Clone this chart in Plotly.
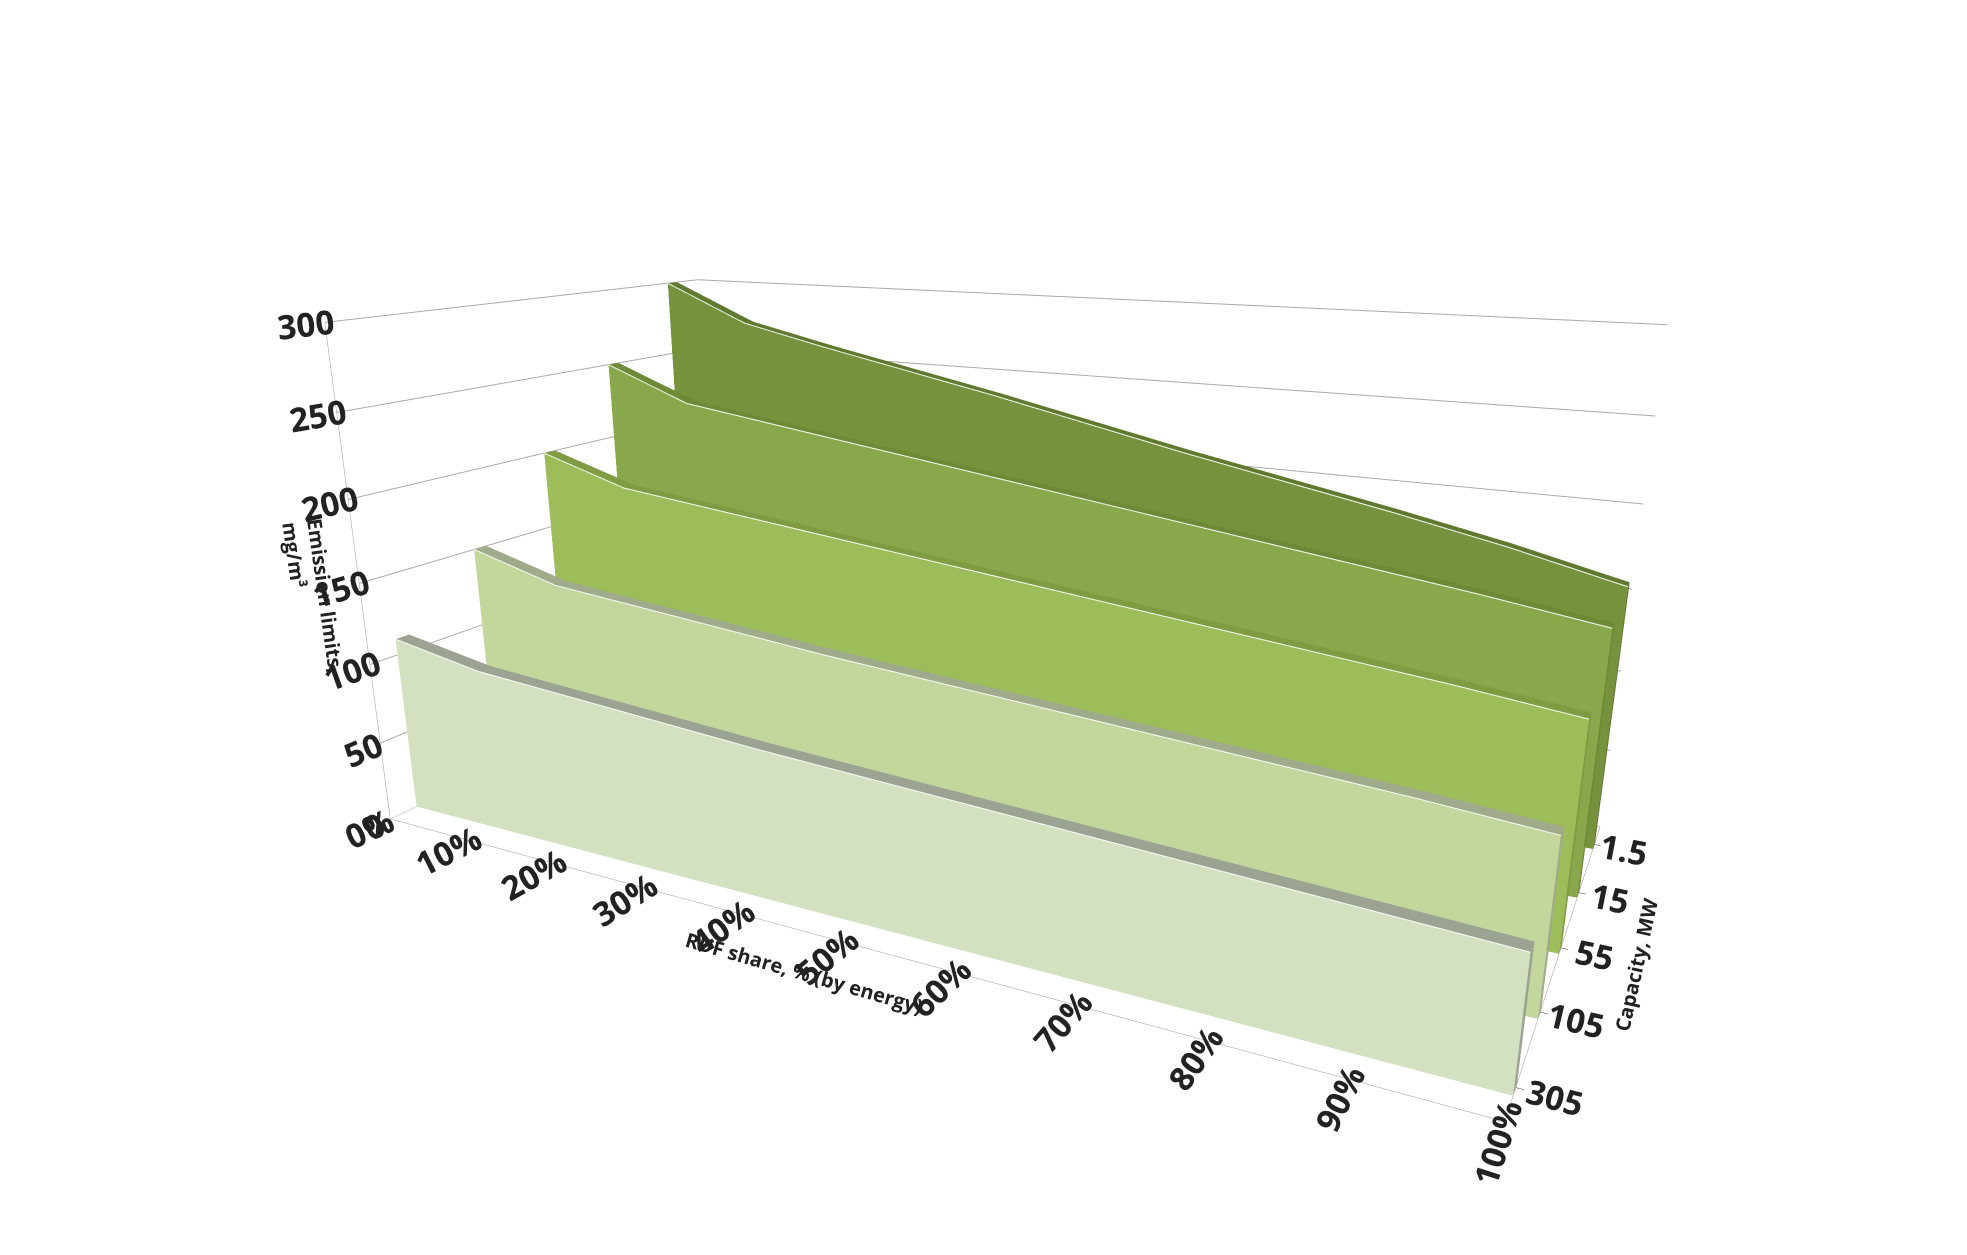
import plotly.graph_objects as go

rdf_share = [0, 10, 20, 30, 40, 50, 60, 70, 80, 90, 100]
x_labels = ["0%", "10%", "20%", "30%", "40%", "50%", "60%", "70%", "80%", "90%", "100%"]
capacities = ["305", "105", "55", "15", "1.5"]
lim_305 = [110, 100, 96, 92, 88, 85, 82, 79, 76, 73, 70]
lim_105 = [150, 135, 130, 125, 120, 116, 112, 108, 104, 100, 95]
lim_55 = [200, 183, 177, 171, 165, 159, 153, 147, 141, 135, 128]
lim_15 = [250, 228, 220, 212, 204, 196, 188, 180, 172, 164, 155]
lim_1_5 = [300, 275, 262, 250, 238, 225, 212, 200, 188, 175, 160]
series = [lim_305, lim_105, lim_55, lim_15, lim_1_5]
face_cols = ["#d4e1c0", "#c3d69b", "#9dbd5a", "#89a84c", "#76923c"]
top_cols = ["#9da393", "#a0ab8b", "#7f9c42", "#6e8a37", "#5f7a2e"]

fig = go.Figure()
t = 0.15
for i, vals in enumerate(series):
    y0 = i
    n = len(rdf_share)
    xs, ys, zs = [], [], []
    for x, v in zip(rdf_share, vals):
        xs += [x, x, x, x]; ys += [y0, y0, y0 + t, y0 + t]; zs += [0, v, v, 0]
    I, J, K, fc = [], [], [], []
    for j in range(n - 1):
        a, b, c, d = 4*j, 4*j+1, 4*j+2, 4*j+3
        a2, b2, c2 = a+4, b+4, c+4
        I += [a, b]; J += [a2, a2]; K += [b, b2]; fc += [face_cols[i]]*2
        I += [b, c]; J += [b2, b2]; K += [c, c2]; fc += [top_cols[i]]*2
    a, b, c, d = 4*(n-1), 4*(n-1)+1, 4*(n-1)+2, 4*(n-1)+3
    I += [a, a]; J += [b, c]; K += [c, d]; fc += [top_cols[i]]*2
    fig.add_trace(go.Mesh3d(x=xs, y=ys, z=zs, i=I, j=J, k=K, facecolor=fc,
                            flatshading=True, hoverinfo="skip", showscale=False,
                            lighting=dict(ambient=1, diffuse=0, specular=0, fresnel=0)))
    fig.add_trace(go.Scatter3d(x=rdf_share, y=[y0]*n, z=vals, mode="lines",
                               line=dict(color="white", width=2), hoverinfo="skip", showlegend=False))

ax_font = dict(family="Open Sans", size=20, color="#222")
fig.update_layout(
    width=1967, height=1255, paper_bgcolor="white", showlegend=False,
    margin=dict(l=0, r=0, t=0, b=0),
    font=dict(family="Open Sans", size=20, color="#222"),
    scene=dict(
        xaxis=dict(title=dict(text="<b>RDF share, % (by energy)</b>", font=ax_font),
                   tickvals=rdf_share, ticktext=["<b>%s</b>" % s for s in x_labels],
                   range=[0, 100], showbackground=False, showgrid=False, showline=True,
                   linecolor="#999", ticks="outside", tickfont=ax_font),
        yaxis=dict(title=dict(text="<b>Capacity, MW</b>", font=ax_font),
                   tickvals=[0.1, 1.1, 2.1, 3.1, 4.1], ticktext=["<b>%s</b>" % c for c in capacities],
                   range=[-0.3, 4.5], showbackground=False, showgrid=False, showline=True,
                   linecolor="#999", ticks="outside", tickfont=ax_font),
        zaxis=dict(title=dict(text="<b>Emission limits,<br>mg/m³</b>", font=ax_font),
                   tickvals=[0, 50, 100, 150, 200, 250, 300],
                   ticktext=["<b>%d</b>" % v for v in [0, 50, 100, 150, 200, 250, 300]],
                   range=[0, 300], showbackground=False, gridcolor="#aaaaaa", showline=True,
                   linecolor="#999", tickfont=ax_font),
        aspectmode="manual", aspectratio=dict(x=2.2, y=1.1, z=1.0),
        camera=dict(eye=dict(x=1.3, y=-2.5, z=0.8), center=dict(x=0, y=0, z=-0.1)),
    ),
)
fig.write_html("out.html")
